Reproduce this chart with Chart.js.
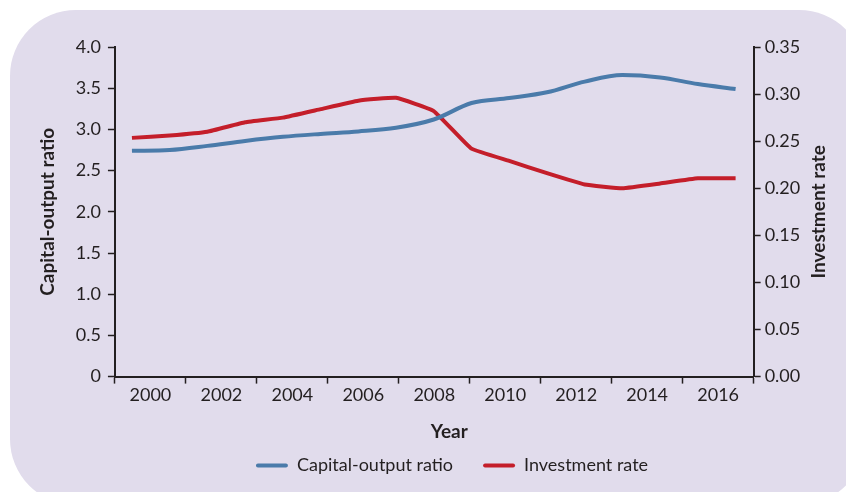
<!DOCTYPE html>
<html>
<head>
<meta charset="utf-8">
<script src="https://cdn.jsdelivr.net/npm/chart.js@4.4.1/dist/chart.umd.min.js"></script>
<style>
  html, body { margin: 0; padding: 0; background: #ffffff; overflow: hidden; }
  #wrap { position: relative; width: 846px; height: 492px; }
  #panel { position: absolute; left: 10px; top: 10px; width: 855px; height: 495px;
           border-radius: 66px; background: #e1dcec; }
  #c { position: absolute; left: 0; top: 0; }
</style>
</head>
<body>
<div id="wrap">
  <div id="panel"></div>
  <canvas id="c" width="846" height="492"></canvas>
</div>
<script>
// ---- data ----
const years = [2000, 2001, 2002, 2003, 2004, 2005, 2006, 2007, 2008,
               2009, 2010, 2011, 2012, 2013, 2014, 2015, 2016];
const capitalOutputRatio = [2.74, 2.75, 2.80, 2.86, 2.91, 2.945, 2.975, 3.02, 3.12,
                            3.32, 3.38, 3.45, 3.58, 3.66, 3.63, 3.55, 3.49];
const investmentRate = [0.2535, 0.256, 0.260, 0.270, 0.275, 0.284, 0.293, 0.296, 0.282,
                        0.242, 0.229, 0.216, 0.204, 0.200, 0.205, 0.2105, 0.2105];
const xTickLabels = ['2000', '2002', '2004', '2006', '2008', '2010', '2012', '2014', '2016'];
const leftTicks = [0, 0.5, 1.0, 1.5, 2.0, 2.5, 3.0, 3.5, 4.0];
const rightTicks = [0, 0.05, 0.10, 0.15, 0.20, 0.25, 0.30, 0.35];
const seriesNames = ['Capital-output ratio', 'Investment rate'];
const xTitle = 'Year';
const leftTitle = 'Capital-output ratio';
const rightTitle = 'Investment rate';

// ---- styles ----
const FONT = 'Lato, "Open Sans", sans-serif';
const INK = '#231f20';
const BLUE = '#4a7baa';
const RED = '#c41e2a';

const titlePlugin = {
  id: 'customTitles',
  afterLayout(chart) {
    const lg = chart.legend;
    const area = chart.chartArea;
    if (lg) {
      lg.left += 16; lg.right += 16;
      const h = lg.height;
      lg.top = area.bottom + 89 - 9 - lg.options.labels.padding;
      lg.bottom = lg.top + h;
    }
  },
  afterDraw(chart) {
    const ctx = chart.ctx;
    const area = chart.chartArea;
    const y2 = chart.scales.y2;
    ctx.save();
    ctx.fillStyle = INK;
    ctx.font = 'bold 19px ' + FONT;
    ctx.textAlign = 'center';
    ctx.textBaseline = 'middle';
    // right axis title reading bottom-to-top
    ctx.save();
    ctx.translate(y2.right - 17, (area.top + area.bottom) / 2);
    ctx.rotate(-Math.PI / 2);
    ctx.fillText(rightTitle, 0, 0);
    ctx.restore();
    // x axis title
    ctx.fillText(xTitle, (area.left + area.right) / 2 + 15, area.bottom + 55);
    ctx.restore();
  }
};

new Chart(document.getElementById('c'), {
  type: 'line',
  data: {
    datasets: [
      {
        label: seriesNames[0],
        data: years.map((y, i) => ({ x: y, y: capitalOutputRatio[i] })),
        borderColor: BLUE,
        backgroundColor: BLUE,
        borderWidth: 4,
        pointRadius: 0,
        cubicInterpolationMode: 'monotone',
        xAxisID: 'x',
        yAxisID: 'y'
      },
      {
        label: seriesNames[1],
        data: years.map((y, i) => ({ x: y, y: investmentRate[i] })),
        borderColor: RED,
        backgroundColor: RED,
        borderWidth: 4,
        pointRadius: 0,
        tension: 0.1,
        xAxisID: 'x',
        yAxisID: 'y2'
      }
    ]
  },
  options: {
    responsive: false,
    animation: false,
    devicePixelRatio: 1,
    layout: { padding: { left: 36, right: 10, top: 47, bottom: 0 } },
    plugins: {
      tooltip: { enabled: false },
      legend: {
        position: 'bottom',
        labels: {
          color: INK,
          font: { family: FONT, size: 18 },
          boxWidth: 32,
          boxHeight: 4,
          padding: 30,
          useBorderRadius: true,
          borderRadius: 2,
          generateLabels(chart) {
            const items = Chart.defaults.plugins.legend.labels.generateLabels(chart);
            items.forEach(it => { it.fillStyle = it.strokeStyle; it.lineWidth = 0; });
            return items;
          }
        }
      }
    },
    scales: {
      x: {
        type: 'linear',
        display: false,
        min: 1999.549,
        max: 2016.478
      },
      xt: {
        type: 'category',
        position: 'bottom',
        labels: xTickLabels,
        offset: true,
        grid: { offset: true, drawOnChartArea: false, tickLength: 7, color: INK, tickWidth: 1.5 },
        border: { display: true, color: INK, width: 2 },
        ticks: { color: INK, font: { family: FONT, size: 18 }, padding: 1, maxRotation: 0, autoSkip: false },
        title: { display: true, text: xTitle, color: 'rgba(0,0,0,0)', font: { family: FONT, size: 19, weight: 'bold' }, padding: { top: 4, bottom: 0 } }
      },
      y: {
        position: 'left',
        min: 0,
        max: 4,
        afterBuildTicks(s) { s.ticks = leftTicks.map(v => ({ value: v })); },
        grid: { drawOnChartArea: false, tickLength: 7, color: INK, tickWidth: 1.5 },
        border: { display: true, color: INK, width: 2 },
        ticks: {
          color: INK, font: { family: FONT, size: 18 }, padding: 7,
          callback: v => (v === 0 ? '0' : v.toFixed(1))
        },
        title: { display: true, text: leftTitle, color: INK, font: { family: FONT, size: 19, weight: 'bold' }, padding: { top: 0, bottom: 10 } }
      },
      y2: {
        position: 'right',
        min: 0,
        max: 0.35,
        afterBuildTicks(s) { s.ticks = rightTicks.map(v => ({ value: v })); },
        grid: { drawOnChartArea: false, tickLength: 7, color: INK, tickWidth: 1.5 },
        border: { display: true, color: INK, width: 2 },
        ticks: {
          color: INK, font: { family: FONT, size: 18 }, padding: 4,
          callback: v => v.toFixed(2)
        },
        title: { display: true, text: rightTitle, color: 'rgba(0,0,0,0)', font: { family: FONT, size: 19, weight: 'bold' }, padding: { top: 5, bottom: 4 } }
      }
    }
  },
  plugins: [titlePlugin]
});
</script>
</body>
</html>
